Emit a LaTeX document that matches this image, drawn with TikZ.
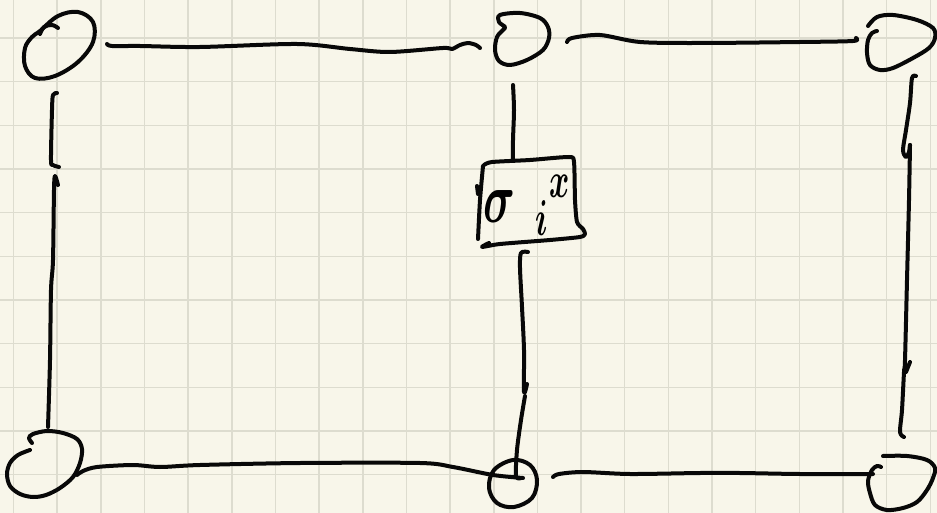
\documentclass[tikz,border=0pt]{standalone}
\usepackage{fix-cm}
\usetikzlibrary{calc}
\definecolor{paper}{RGB}{248,246,234}
\definecolor{gridc}{RGB}{221,220,207}
\definecolor{ink}{RGB}{8,8,8}
\begin{document}
\begin{tikzpicture}[x=1pt,y=-1pt,
  pen/.style={line width=4pt, line cap=round, line join=round, draw=ink},
  gridline/.style={draw=gridc, line width=1.5pt},
  hub/.style={inner sep=0pt, minimum size=0pt}]
\useasboundingbox (0,0) rectangle (937,513);
\fill[paper] (0,0) rectangle (937,513);
% grid paper
\foreach \xx in {13.5,57.2,100.8,144.5,188.1,231.8,275.5,319.1,362.8,406.4,450.1,493.8,537.4,581.1,624.7,668.4,712.1,755.7,799.4,843.0,886.7,930.4}
  {\draw[gridline] (\xx,0) -- (\xx,513);}
\foreach \yy in {38,81.7,125.3,169.0,212.6,256.3,300.0,343.6,387.3,430.9,474.6}
  {\draw[gridline] (0,\yy) -- (937,\yy);}

% node centres
\node[hub] (tl) at (60,46) {};
\node[hub] (tm) at (522,40) {};
\node[hub] (tr) at (902,42) {};
\node[hub] (bl) at (44,463) {};
\node[hub] (bm) at (513,484) {};
\node[hub] (br) at (902,482) {};
\node[hub] (box) at (530,203) {};

% connector end points
\coordinate (tl-r) at (107,44);
\coordinate (tm-l) at (480,48);
\coordinate (tm-r) at (567,42);
\coordinate (tr-l) at (856,38);
\coordinate (tl-d) at (57,93);
\coordinate (bl-u) at (48,427);
\coordinate (bl-r) at (77,475);
\coordinate (bm-l) at (523,478);
\coordinate (bm-r) at (553,477);
\coordinate (br-l) at (873,474);
\coordinate (tr-d) at (916,76);
\coordinate (br-u) at (904,437);
\coordinate (tm-d) at (513,85);
\coordinate (box-u) at (513,160);
\coordinate (box-d) at (528,252);
\coordinate (bm-u) at (521,478);

% hand-drawn nodes
\draw[pen] plot[smooth cycle, tension=0.6] coordinates {(40,31) (58,16) (78,12) (93,22) (93,42) (78,62) (55,76) (35,78) (25,66) (25,48) (32,37)};
\draw[pen] plot[smooth, tension=0.6] coordinates {(40,34) (44,27) (52,25) (58,28)};
\draw[pen] plot[smooth cycle, tension=0.55] coordinates {(500,15) (520,13) (540,18) (548,27) (549,38) (543,50) (527,60) (510,65) (499,61) (495,50) (497,37) (503,30) (505,27) (499,22)};
\draw[pen] plot[smooth, tension=0.55] coordinates {(868,26) (877,17) (893,15) (917,20) (933,28) (935,38) (929,48) (913,58) (893,68) (880,70) (870,65) (867,53) (868,40) (872,33) (877,31)};
\draw[pen] plot[smooth, tension=0.55] coordinates {(32,443) (29,438) (33,434) (47,431) (63,433) (77,439) (82,449) (80,463) (73,477) (60,488) (46,495) (33,497) (20,494) (10,486) (7,474) (10,463) (18,455) (30,450)};
\draw[pen] plot[smooth cycle, tension=0.6] coordinates {(513,460) (530,465) (537,480) (532,498) (514,507) (497,503) (489,488) (494,470)};
\draw[pen] plot[smooth, tension=0.55] coordinates {(883,456) (907,456) (927,460) (935,468) (933,478) (927,490) (917,502) (903,508) (887,510) (875,505) (870,493) (868,481) (872,470) (877,466) (881,467)};

% box
\draw[pen] plot[smooth, tension=0.4] coordinates {(483,166) (480,200) (478,239)};
\draw[pen] (477,186) -- (478,194);
\draw[pen] plot[smooth, tension=0.4] coordinates {(484,165) (492,162) (530,160) (569,157) (574,162) (575,200) (577,222) (583,229) (585,234) (580,237) (550,240) (500,244) (482,247) (489,243)};
\node[inner sep=0pt] (lab) at (527,210) {\scalebox{1.1}[1.8]{\fontsize{40}{40}\selectfont\boldmath$\sigma^{\mkern17mu\raisebox{-1.5pt}{$\scriptstyle x$}}_{\mkern11mu\raisebox{5.5pt}{$\scriptstyle i$}}$}};

% connectors
\draw[pen] plot[smooth, tension=0.5] coordinates {(tl-r) (112,46) (140,46) (200,47) (297,44) (350,49) (390,52) (443,48) (452,49) (460,45) (468,43) (476,45) (tm-l)};
\draw[pen] plot[smooth, tension=0.5] coordinates {(tm-r) (572,38) (600,35) (640,42) (700,43) (800,42) (853,41) (tr-l)};
\draw[pen] plot[smooth, tension=0.5] coordinates {(tl-d) (53,95) (52,110) (51,160) (53,165) (59,167)};
\draw[pen] plot[smooth, tension=0.5] coordinates {(58,185) (55,176) (54,190) (53,260) (51,290) (50,360) (bl-u)};
\draw[pen] plot[smooth, tension=0.5] coordinates {(bl-r) (83,471) (97,467) (133,465) (160,467) (200,465) (300,463) (420,463) (453,467) (493,475) (bm-l)};
\draw[pen] plot[smooth, tension=0.5] coordinates {(bm-r) (559,474) (583,472) (630,474) (700,473) (740,473) (800,474) (br-l)};
\draw[pen] plot[smooth, tension=0.5] coordinates {(tr-d) (912,78) (910,103) (906,130) (903,150) (906,157) (909,152) (910,145)};
\draw[pen] plot[smooth, tension=0.5] coordinates {(910,145) (909,200) (907,280) (905,360) (904,372) (902,410) (900,432) (br-u)};
\draw[pen] (910,362) -- (906,372);
\draw[pen] plot[smooth, tension=0.5] coordinates {(tm-d) (514,110) (513,140) (box-u)};
\draw[pen] plot[smooth, tension=0.5] coordinates {(box-d) (521,253) (520,268) (522,307) (524,350) (524,392) (527,384)};
\draw[pen] plot[smooth, tension=0.5] coordinates {(525,396) (521,420) (517,450) (516,476) (bm-u)};
\end{tikzpicture}
\end{document}
